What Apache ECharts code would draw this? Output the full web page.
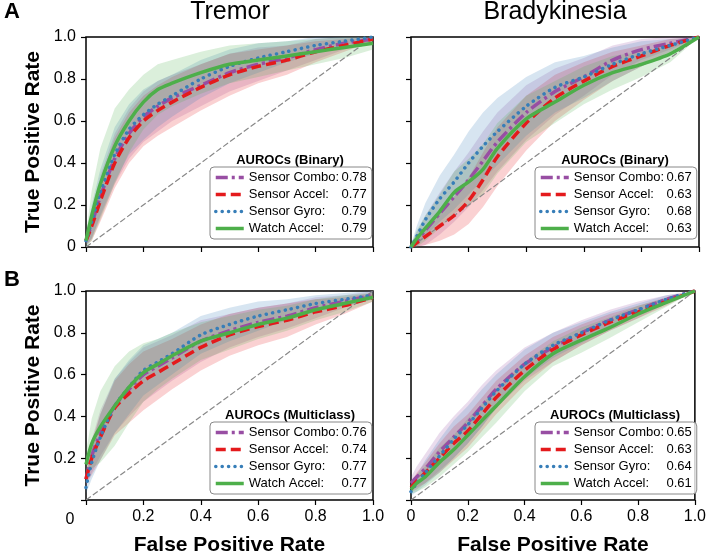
<!DOCTYPE html>
<html>
<head>
<meta charset="utf-8">
<script src="https://cdn.jsdelivr.net/npm/echarts@6/dist/echarts.min.js"></script>
<style>
html,body{margin:0;padding:0;background:#fff;}
#chart{width:709px;height:558px;}
</style>
</head>
<body>
<div id="chart"></div>
<script>
// ---- data ----
const SERIES_NAMES = ['Sensor Combo', 'Sensor Accel', 'Sensor Gyro', 'Watch Accel'];
const COLORS = ['#984ea3', '#e41a1c', '#377eb8', '#4daf4a'];
const PANEL_TITLES = ['Tremor', 'Bradykinesia'];
const LEGEND_TITLES = ['AUROCs (Binary)', 'AUROCs (Binary)', 'AUROCs (Multiclass)', 'AUROCs (Multiclass)'];

const FPR = [0, 0.02, 0.05, 0.1, 0.15, 0.2, 0.25, 0.3, 0.4, 0.5, 0.6, 0.7, 0.8, 0.9, 1.0];

// Tremor, binary (A left)
const TREMOR_BIN_TPR = [
  [0.03, 0.11, 0.24, 0.42, 0.54, 0.62, 0.67, 0.71, 0.77, 0.83, 0.87, 0.90, 0.94, 0.97, 0.99],
  [0.03, 0.10, 0.22, 0.40, 0.52, 0.60, 0.65, 0.69, 0.76, 0.82, 0.86, 0.89, 0.93, 0.96, 0.99],
  [0.03, 0.12, 0.26, 0.44, 0.56, 0.63, 0.68, 0.72, 0.80, 0.86, 0.90, 0.93, 0.96, 0.98, 1.00],
  [0.03, 0.15, 0.30, 0.48, 0.60, 0.69, 0.75, 0.78, 0.83, 0.87, 0.89, 0.91, 0.93, 0.95, 0.97]
];
const TREMOR_BIN_SD = [
  [0.02, 0.07, 0.10, 0.12, 0.12, 0.12, 0.12, 0.11, 0.10, 0.09, 0.08, 0.06, 0.05, 0.03, 0.01],
  [0.02, 0.07, 0.10, 0.12, 0.12, 0.12, 0.12, 0.12, 0.11, 0.10, 0.08, 0.07, 0.05, 0.03, 0.01],
  [0.03, 0.08, 0.11, 0.13, 0.12, 0.12, 0.11, 0.10, 0.09, 0.08, 0.07, 0.05, 0.04, 0.02, 0.00],
  [0.03, 0.12, 0.17, 0.18, 0.15, 0.13, 0.12, 0.11, 0.10, 0.09, 0.08, 0.07, 0.06, 0.05, 0.03]
];
const TREMOR_BIN_AUC = ['0.78', '0.77', '0.79', '0.79'];

// Bradykinesia, binary (A right)
const BRADY_BIN_TPR = [
  [0.00, 0.03, 0.08, 0.16, 0.24, 0.32, 0.41, 0.50, 0.64, 0.74, 0.81, 0.89, 0.94, 0.97, 1.00],
  [0.00, 0.02, 0.05, 0.10, 0.15, 0.22, 0.32, 0.43, 0.59, 0.71, 0.79, 0.86, 0.91, 0.96, 1.00],
  [0.00, 0.05, 0.13, 0.23, 0.31, 0.40, 0.48, 0.55, 0.67, 0.76, 0.81, 0.87, 0.92, 0.96, 1.00],
  [0.00, 0.04, 0.09, 0.17, 0.26, 0.31, 0.37, 0.47, 0.61, 0.69, 0.77, 0.83, 0.87, 0.92, 1.00]
];
const BRADY_BIN_SD = [
  [0.01, 0.04, 0.07, 0.10, 0.12, 0.13, 0.14, 0.14, 0.13, 0.11, 0.09, 0.07, 0.05, 0.03, 0.00],
  [0.01, 0.02, 0.04, 0.07, 0.09, 0.11, 0.13, 0.14, 0.13, 0.11, 0.09, 0.07, 0.05, 0.03, 0.00],
  [0.01, 0.05, 0.08, 0.11, 0.13, 0.15, 0.16, 0.16, 0.14, 0.12, 0.10, 0.08, 0.06, 0.03, 0.00],
  [0.01, 0.04, 0.06, 0.08, 0.10, 0.11, 0.12, 0.12, 0.11, 0.10, 0.09, 0.08, 0.06, 0.04, 0.00]
];
const BRADY_BIN_AUC = ['0.67', '0.63', '0.68', '0.63'];

// Tremor, multiclass (B left)
const TREMOR_MC_TPR = [
  [0.10, 0.21, 0.32, 0.45, 0.53, 0.60, 0.64, 0.68, 0.76, 0.81, 0.85, 0.88, 0.92, 0.95, 0.98],
  [0.10, 0.20, 0.30, 0.44, 0.51, 0.57, 0.61, 0.65, 0.73, 0.79, 0.83, 0.86, 0.90, 0.93, 0.97],
  [0.06, 0.18, 0.30, 0.45, 0.54, 0.62, 0.66, 0.70, 0.79, 0.84, 0.88, 0.91, 0.94, 0.96, 0.98],
  [0.17, 0.27, 0.35, 0.45, 0.54, 0.61, 0.65, 0.69, 0.76, 0.80, 0.84, 0.87, 0.91, 0.94, 0.97]
];
const TREMOR_MC_SD = [
  [0.03, 0.08, 0.11, 0.13, 0.13, 0.13, 0.12, 0.11, 0.10, 0.08, 0.07, 0.06, 0.05, 0.03, 0.02],
  [0.03, 0.08, 0.11, 0.13, 0.14, 0.14, 0.13, 0.12, 0.11, 0.10, 0.09, 0.08, 0.06, 0.04, 0.02],
  [0.03, 0.08, 0.11, 0.13, 0.13, 0.12, 0.11, 0.10, 0.09, 0.08, 0.07, 0.05, 0.04, 0.03, 0.02],
  [0.06, 0.12, 0.17, 0.19, 0.17, 0.14, 0.12, 0.11, 0.09, 0.08, 0.07, 0.06, 0.05, 0.04, 0.02]
];
const TREMOR_MC_AUC = ['0.76', '0.74', '0.77', '0.77'];

// Bradykinesia, multiclass (B right)
const BRADY_MC_TPR = [
  [0.08, 0.11, 0.15, 0.23, 0.30, 0.37, 0.45, 0.53, 0.65, 0.73, 0.80, 0.86, 0.91, 0.96, 1.00],
  [0.06, 0.09, 0.13, 0.20, 0.27, 0.33, 0.41, 0.49, 0.62, 0.72, 0.79, 0.85, 0.90, 0.95, 1.00],
  [0.04, 0.08, 0.13, 0.21, 0.29, 0.36, 0.44, 0.52, 0.65, 0.74, 0.80, 0.86, 0.91, 0.96, 1.00],
  [0.05, 0.08, 0.11, 0.18, 0.24, 0.31, 0.38, 0.45, 0.59, 0.70, 0.765, 0.825, 0.89, 0.945, 1.00]
];
const BRADY_MC_SD = [
  [0.03, 0.05, 0.07, 0.09, 0.10, 0.10, 0.10, 0.09, 0.08, 0.07, 0.06, 0.05, 0.04, 0.02, 0.00],
  [0.02, 0.04, 0.05, 0.07, 0.08, 0.08, 0.08, 0.08, 0.07, 0.06, 0.05, 0.04, 0.03, 0.02, 0.00],
  [0.02, 0.04, 0.06, 0.08, 0.09, 0.09, 0.09, 0.08, 0.07, 0.06, 0.05, 0.04, 0.03, 0.02, 0.00],
  [0.02, 0.04, 0.05, 0.07, 0.07, 0.08, 0.08, 0.08, 0.07, 0.06, 0.06, 0.05, 0.04, 0.02, 0.00]
];
const BRADY_MC_AUC = ['0.65', '0.63', '0.64', '0.61'];

const PANEL_TPR = [TREMOR_BIN_TPR, BRADY_BIN_TPR, TREMOR_MC_TPR, BRADY_MC_TPR];
const PANEL_SD = [TREMOR_BIN_SD, BRADY_BIN_SD, TREMOR_MC_SD, BRADY_MC_SD];
const PANEL_AUC = [TREMOR_BIN_AUC, BRADY_BIN_AUC, TREMOR_MC_AUC, BRADY_MC_AUC];

// ---- layout / style ----
const FONT = "'Liberation Sans', Arial, sans-serif";
const GRIDS = [
  {left: 86, top: 37, width: 287, height: 210},
  {left: 411, top: 37, width: 288, height: 210},
  {left: 86, top: 291, width: 287, height: 209},
  {left: 411, top: 291, width: 288, height: 209}
];
const LINE_TYPES = [[12, 4, 3, 4], [10, 5], [0.1, 6.3], 'solid'];
const LINE_CAPS = ['butt', 'butt', 'round', 'butt'];
const LEGEND_POS = [[210, 167], [535, 167], [210, 422], [535, 422]];

const chart = echarts.init(document.getElementById('chart'), null, {renderer: 'canvas'});

const series = [];
const xAxes = [];
const yAxes = [];
const legends = [];
const graphics = [];

GRIDS.forEach((g, p) => {
  const isLeft = p % 2 === 0;
  const isBottom = p >= 2;
  xAxes.push({
    gridIndex: p, type: 'value', min: 0, max: 1, interval: 0.2,
    axisLine: {show: false},
    axisTick: {show: true, inside: false, length: 5, lineStyle: {color: '#000', width: 1.2}},
    splitLine: {show: false},
    axisLabel: {
      show: isBottom, margin: 9, color: '#000', fontSize: 16, fontFamily: FONT,
      formatter: v => (v === 0 ? (isLeft ? '' : '0') : v.toFixed(1))
    },
    name: isBottom ? 'False Positive Rate' : '',
    nameLocation: 'middle', nameGap: 35,
    nameTextStyle: {fontSize: 21, fontWeight: 'bold', color: '#000', fontFamily: FONT}
  });
  yAxes.push({
    gridIndex: p, type: 'value', min: 0, max: 1, interval: 0.2,
    axisLine: {show: false},
    axisTick: {show: true, inside: false, length: 5, lineStyle: {color: '#000', width: 1.2}},
    splitLine: {show: false},
    axisLabel: {
      show: isLeft, margin: 10, color: '#000', fontSize: 16, fontFamily: FONT,
      formatter: v => (v === 0 ? (isBottom ? '' : '0') : v.toFixed(1))
    },
    name: isLeft ? 'True Positive Rate' : '',
    nameLocation: 'middle', nameRotate: 90, nameGap: 42,
    nameTextStyle: {fontSize: 21, fontWeight: 'bold', color: '#000', fontFamily: FONT}
  });

  const tprs = PANEL_TPR[p];
  const sds = PANEL_SD[p];
  // confidence bands (mean +/- sd), drawn as polygons through the axis scales
  tprs.forEach((tpr, i) => {
    const lower = tpr.map((v, k) => Math.max(0, v - sds[i][k]));
    const upper = tpr.map((v, k) => Math.min(1, v + sds[i][k]));
    series.push({
      type: 'custom', xAxisIndex: p, yAxisIndex: p, silent: true, clip: true, z: 1,
      data: FPR.map((x, k) => [x, lower[k], upper[k]]),
      encode: {x: 0, y: [1, 2]},
      renderItem: (params, api) => {
        if (params.dataIndex !== 0) return null;
        const top = FPR.map((x, k) => api.coord([x, upper[k]]));
        const bot = FPR.map((x, k) => api.coord([x, lower[k]])).reverse();
        return {
          type: 'polygon',
          shape: {points: top.concat(bot)},
          style: {fill: COLORS[i], opacity: 0.2}
        };
      }
    });
  });
  // chance diagonal
  series.push({
    type: 'line', xAxisIndex: p, yAxisIndex: p, silent: true, symbol: 'none',
    lineStyle: {color: '#888', width: 1.2, type: [6, 2.5]},
    data: [[0, 0], [1, 1]], z: 2
  });
  // mean ROC curves
  tprs.forEach((tpr, i) => {
    series.push({
      name: SERIES_NAMES[i],
      type: 'line', xAxisIndex: p, yAxisIndex: p, silent: true, symbol: 'none',
      smooth: 0.25,
      lineStyle: {color: COLORS[i], width: 3.5, type: LINE_TYPES[i], cap: LINE_CAPS[i]},
      itemStyle: {color: COLORS[i]},
      data: FPR.map((x, k) => [x, tpr[k]]), z: 3 + i
    });
  });

  const auc = PANEL_AUC[p];
  legends.push({
    left: LEGEND_POS[p][0], top: LEGEND_POS[p][1], orient: 'vertical',
    data: SERIES_NAMES,
    selectedMode: false,
    itemWidth: 28, itemHeight: 14, itemGap: 4,
    padding: [4, 5, 4, 4],
    backgroundColor: 'rgba(255,255,255,0.8)',
    borderColor: '#888', borderWidth: 1, borderRadius: 4,
    itemStyle: {opacity: 0},
    lineStyle: {width: 3.5},
    formatter: name => '{n|' + name + ':}{v|' + auc[SERIES_NAMES.indexOf(name)] + '}',
    textStyle: {
      color: '#000', fontFamily: FONT, fontSize: 13,
      rich: {
        n: {width: 92, fontSize: 13, fontFamily: FONT, color: '#000'},
        v: {width: 26, align: 'right', fontSize: 13, fontFamily: FONT, color: '#000'}
      }
    }
  });

  graphics.push({
    type: 'text',
    x: LEGEND_POS[p][0] + 80, y: LEGEND_POS[p][1] - 7,
    style: {text: LEGEND_TITLES[p], font: 'bold 13px ' + FONT, fill: '#000', textAlign: 'center', textVerticalAlign: 'middle'}
  });
});

// panel titles and letters
graphics.push({type: 'text', x: 230, y: 12, style: {text: PANEL_TITLES[0], font: '25px ' + FONT, fill: '#000', textAlign: 'center', textVerticalAlign: 'middle'}});
graphics.push({type: 'text', x: 555, y: 12, style: {text: PANEL_TITLES[1], font: '25px ' + FONT, fill: '#000', textAlign: 'center', textVerticalAlign: 'middle'}});
graphics.push({type: 'text', x: 12, y: 12, style: {text: 'A', font: 'bold 22px ' + FONT, fill: '#000', textAlign: 'center', textVerticalAlign: 'middle'}});
graphics.push({type: 'text', x: 12, y: 280, style: {text: 'B', font: 'bold 22px ' + FONT, fill: '#000', textAlign: 'center', textVerticalAlign: 'middle'}});
graphics.push({type: 'text', x: 70, y: 520, style: {text: '0', font: '16px ' + FONT, fill: '#000', textAlign: 'center', textVerticalAlign: 'middle'}});

chart.setOption({
  animation: false,
  backgroundColor: '#fff',
  grid: GRIDS.map(g => Object.assign({show: true, borderColor: '#000', borderWidth: 1.5, backgroundColor: 'transparent'}, g)),
  xAxis: xAxes,
  yAxis: yAxes,
  legend: legends,
  graphic: graphics,
  series: series
});
</script>
</body>
</html>
